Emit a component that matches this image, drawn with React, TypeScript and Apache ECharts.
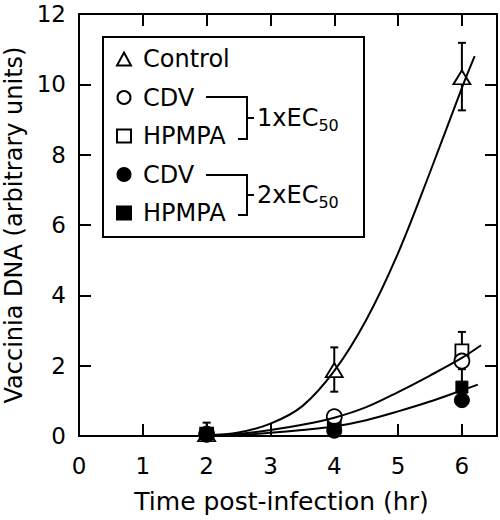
import React, { useEffect, useRef } from "react";
import * as echarts from "echarts";

// ---- data ----
const xTicks = [0, 1, 2, 3, 4, 5, 6];
const times = [2, 4, 6];
const control = [0.05, 1.875, 10.2];
const cdv1x = [0.05, 0.55, 2.13];
const hpmpa1x = [0.05, 0.38, 2.42];
const cdv2x = [0.05, 0.15, 1.02];
const hpmpa2x = [0.05, 0.28, 1.39];

// error bars: [x, low, high]
const controlErr = [
  [2, 0.0, 0.38],
  [4, 1.26, 2.52],
  [6, 9.26, 11.18],
];
const hpmpa1xErr = [[6, 1.9, 2.96]];
const hpmpa2xErr = [[6, 0.85, 1.98]];

// fitted curves
const fitControlX = [2, 2.5, 3, 3.5, 4, 4.5, 5, 5.5, 6, 6.2];
const fitControlY = [0.02, 0.1, 0.35, 0.85, 1.85, 3.3, 5.2, 7.5, 9.9, 10.8];
const fit1xX = [2, 2.5, 3, 3.5, 4, 4.5, 5, 5.5, 6, 6.3];
const fit1xY = [0, 0.06, 0.17, 0.32, 0.52, 0.82, 1.25, 1.72, 2.22, 2.58];
const fit2xX = [2, 2.5, 3, 3.5, 4, 4.5, 5, 5.5, 6, 6.25];
const fit2xY = [0, 0.03, 0.09, 0.17, 0.27, 0.45, 0.7, 0.98, 1.3, 1.46];

const FONT = "DejaVu Sans";
const BLACK = "#000";

const pairs = (xs: number[], ys: number[]) => xs.map((x, i) => [x, ys[i]]);

const errorBars = [...controlErr, ...hpmpa1xErr, ...hpmpa2xErr];

const openStyle = { color: "#fff", borderColor: BLACK, borderWidth: 1.8, opacity: 1 };
const filledStyle = { color: BLACK, borderColor: BLACK, borderWidth: 1, opacity: 1 };

const axisLineStyle = { color: BLACK, width: 2 };

function buildOption() {
  const xLabelFmt = (v: number) => (Number.isInteger(v) ? String(v) : "");
  const curve = (xs: number[], ys: number[], id: string) => ({
    type: "line",
    id,
    data: pairs(xs, ys),
    smooth: 0.35,
    symbol: "none",
    showSymbol: false,
    silent: true,
    z: 4,
    lineStyle: { color: BLACK, width: 2, opacity: 1 },
  });
  const scatter = (name: string, ys: number[], symbol: string, size: any, style: any, z: number) => ({
    type: "scatter",
    name,
    data: pairs(times, ys),
    symbol,
    symbolSize: size,
    itemStyle: style,
    z,
  });

  return {
    animation: false,
    backgroundColor: "#fff",
    textStyle: { fontFamily: FONT, color: BLACK },
    grid: { left: 79, right: 3, top: 14, bottom: 84, containLabel: false, outerBoundsMode: "none" },
    xAxis: [
      {
        type: "value",
        min: 0,
        max: 6.55,
        interval: 1,
        position: "bottom",
        name: "Time post-infection (hr)",
        nameLocation: "middle",
        nameGap: 53,
        nameTextStyle: { fontSize: 25, color: BLACK, padding: [0, 13, 0, 0] },
        axisLine: { onZero: false, lineStyle: axisLineStyle },
        axisTick: { inside: true, length: 12, lineStyle: axisLineStyle, customValues: xTicks },
        axisLabel: { fontSize: 23, color: BLACK, margin: 18, customValues: xTicks, formatter: xLabelFmt },
        splitLine: { show: false },
      },
      {
        type: "value",
        min: 0,
        max: 6.55,
        interval: 1,
        position: "top",
        axisLine: { onZero: false, lineStyle: axisLineStyle },
        axisTick: { inside: true, length: 12, lineStyle: axisLineStyle, customValues: xTicks },
        axisLabel: { show: false },
        splitLine: { show: false },
      },
    ],
    yAxis: [
      {
        type: "value",
        min: 0,
        max: 12,
        interval: 2,
        position: "left",
        name: "Vaccinia DNA (arbitrary units)",
        nameLocation: "middle",
        nameGap: 47,
        nameTextStyle: { fontSize: 24, color: BLACK },
        axisLine: { onZero: false, lineStyle: axisLineStyle },
        axisTick: { inside: true, length: 12, lineStyle: axisLineStyle },
        axisLabel: { fontSize: 23, color: BLACK, margin: 13 },
        splitLine: { show: false },
      },
      {
        type: "value",
        min: 0,
        max: 12,
        interval: 2,
        position: "right",
        axisLine: { onZero: false, lineStyle: axisLineStyle },
        axisTick: { inside: true, length: 12, lineStyle: axisLineStyle },
        axisLabel: { show: false },
        splitLine: { show: false },
      },
    ],
    legend: {
      orient: "vertical",
      left: 116,
      top: 46,
      padding: 0,
      itemWidth: 14,
      itemHeight: 13,
      itemGap: 12.5,
      selectedMode: false,
      data: ["Control", "CDV 1x", "HPMPA 1x", "CDV 2x", "HPMPA 2x"],
      formatter: (name: string) => name.split(" ")[0],
      itemStyle: { opacity: 1 },
      textStyle: { fontSize: 24, color: BLACK, lineHeight: 26, padding: [0, 0, 0, 7], fontFamily: FONT },
    },
    graphic: [
      {
        type: "rect",
        shape: { x: 103, y: 37, width: 261, height: 200 },
        style: { fill: "none", stroke: BLACK, lineWidth: 2 },
        z: 1,
      },
      {
        type: "polyline",
        shape: { points: [[206, 97], [247, 97], [247, 139], [238, 139]] },
        style: { fill: "none", stroke: BLACK, lineWidth: 2 },
      },
      {
        type: "line",
        shape: { x1: 247, y1: 118, x2: 254, y2: 118 },
        style: { stroke: BLACK, lineWidth: 2 },
      },
      {
        type: "polyline",
        shape: { points: [[206, 175], [247, 175], [247, 215], [238, 215]] },
        style: { fill: "none", stroke: BLACK, lineWidth: 2 },
      },
      {
        type: "line",
        shape: { x1: 247, y1: 195, x2: 254, y2: 195 },
        style: { stroke: BLACK, lineWidth: 2 },
      },
      {
        type: "text",
        x: 257,
        y: 118,
        style: {
          text: "{m|1xEC}{s|50}",
          verticalAlign: "middle",
          align: "left",
          fill: BLACK,
          rich: {
            m: { fontSize: 24, fontFamily: FONT, fill: BLACK },
            s: { fontSize: 16, fontFamily: FONT, fill: BLACK, padding: [14, 0, 0, 0] },
          },
        },
      },
      {
        type: "text",
        x: 257,
        y: 195,
        style: {
          text: "{m|2xEC}{s|50}",
          verticalAlign: "middle",
          align: "left",
          fill: BLACK,
          rich: {
            m: { fontSize: 24, fontFamily: FONT, fill: BLACK },
            s: { fontSize: 16, fontFamily: FONT, fill: BLACK, padding: [14, 0, 0, 0] },
          },
        },
      },
    ],
    series: [
      {
        type: "custom",
        name: "errors",
        data: errorBars,
        encode: { x: 0, y: [1, 2] },
        z: 1,
        silent: true,
        renderItem: (params: any, api: any) => {
          const x = api.value(0);
          const lo = api.coord([x, api.value(1)]);
          const hi = api.coord([x, api.value(2)]);
          const w = 4;
          const st = { stroke: BLACK, lineWidth: 2 };
          return {
            type: "group",
            children: [
              { type: "line", shape: { x1: lo[0], y1: lo[1], x2: hi[0], y2: hi[1] }, style: st },
              { type: "line", shape: { x1: lo[0] - w, y1: lo[1], x2: lo[0] + w, y2: lo[1] }, style: st },
              { type: "line", shape: { x1: hi[0] - w, y1: hi[1], x2: hi[0] + w, y2: hi[1] }, style: st },
            ],
          };
        },
      },
      scatter("HPMPA 1x", hpmpa1x, "rect", 13, openStyle, 2),
      scatter("HPMPA 2x", hpmpa2x, "rect", 12, filledStyle, 2),
      scatter("Control", control, "triangle", [17, 14], openStyle, 2),
      scatter("CDV 1x", cdv1x, "circle", 15, openStyle, 3),
      scatter("CDV 2x", cdv2x, "circle", 15, filledStyle, 3),
      curve(fitControlX, fitControlY, "fitControl"),
      curve(fit1xX, fit1xY, "fit1x"),
      curve(fit2xX, fit2xY, "fit2x"),
    ],
  };
}

export default function App() {
  const ref = useRef<HTMLDivElement>(null);
  useEffect(() => {
    document.body.style.margin = "0";
    const chart = echarts.init(ref.current as HTMLDivElement, null, { renderer: "svg" });
    chart.setOption(buildOption() as any);
    return () => chart.dispose();
  }, []);
  return <div ref={ref} style={{ width: 500, height: 520 }} />;
}
